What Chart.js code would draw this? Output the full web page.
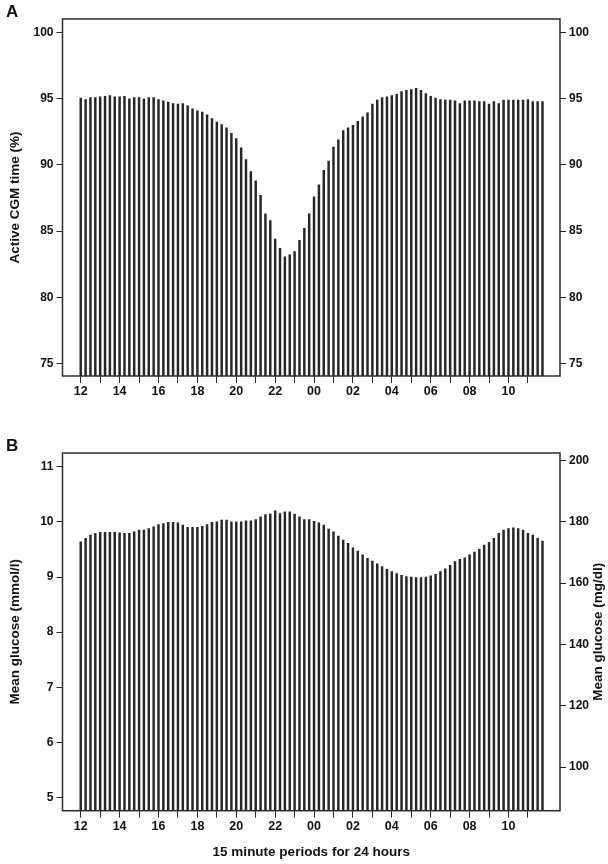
<!DOCTYPE html>
<html><head><meta charset="utf-8">
<script src="https://cdn.jsdelivr.net/npm/chart.js@4/dist/chart.umd.min.js"></script>
<style>
html,body{margin:0;padding:0;background:#fff;width:608px;height:864px;overflow:hidden;}
.wrap{position:absolute;left:0;width:608px;}
#wa{top:0;height:420px;}
#wb{top:420px;height:444px;}
.lbl{position:absolute;font:bold 17px "Liberation Sans",Arial,sans-serif;color:#111;line-height:20px;}
</style></head>
<body>
<div id="wa" class="wrap"><canvas id="ca" width="608" height="420"></canvas></div>
<div id="wb" class="wrap"><canvas id="cb" width="608" height="444"></canvas></div>
<div class="lbl" style="left:6px;top:2px;">A</div>
<div class="lbl" style="left:6px;top:436px;">B</div>
<script>
// x-axis tick labels: one tick per hour (every 4 fifteen-minute periods), label every 2 hours
const hourTickLabels = ['12','','14','','16','','18','','20','','22','','00','','02','','04','','06','','08','','10',''];
const periodsPerHour = 4;

// Panel A: Active CGM time (%) per 15-minute period, starting 12:00
const activeCgmTime = [
  95.05,94.95,95.1,95.1,95.15,95.2,95.25,95.15,95.15,95.2,95.0,95.1,95.1,95.0,95.1,95.1,
  94.95,94.85,94.75,94.65,94.6,94.65,94.5,94.25,94.1,94.0,93.8,93.5,93.25,93.05,92.8,92.4,
  92.0,91.3,90.4,89.5,88.8,87.7,86.3,85.8,84.4,83.7,83.05,83.2,83.45,84.3,85.2,86.3,
  87.6,88.5,89.6,90.3,91.35,91.9,92.6,92.8,93.0,93.3,93.65,93.95,94.6,94.9,95.1,95.15,
  95.25,95.35,95.55,95.65,95.7,95.8,95.65,95.4,95.2,95.05,94.95,94.9,94.9,94.85,94.65,94.85,
  94.85,94.85,94.8,94.8,94.6,94.8,94.65,94.9,94.9,94.9,94.9,94.9,94.95,94.8,94.8,94.8
];
// Panel B: mean glucose (mmol/l) per 15-minute period, starting 12:00
const meanGlucose = [
  9.64,9.70,9.76,9.79,9.81,9.81,9.81,9.81,9.80,9.79,9.79,9.82,9.85,9.85,9.88,9.91,
  9.95,9.97,9.99,9.99,9.98,9.94,9.90,9.90,9.90,9.92,9.95,9.99,10.0,10.03,10.03,10.0,
  10.0,10.0,10.02,10.02,10.04,10.09,10.13,10.14,10.20,10.15,10.18,10.18,10.14,10.09,10.04,10.04,
  10.01,9.98,9.94,9.87,9.82,9.74,9.67,9.61,9.53,9.47,9.40,9.34,9.29,9.24,9.19,9.14,
  9.10,9.06,9.03,9.01,9.00,8.99,8.99,9.00,9.02,9.05,9.10,9.15,9.21,9.28,9.32,9.35,
  9.40,9.45,9.50,9.58,9.63,9.70,9.79,9.85,9.88,9.89,9.88,9.85,9.79,9.76,9.70,9.65
];

const yTicksA = [75,80,85,90,95,100];
const yTicksB = [5,6,7,8,9,10,11];
const yTicksBmgdl = [100,120,140,160,180,200];
const MGDL_PER_MMOL = 18;

const FONT = '"Liberation Sans", Arial, sans-serif';
const INK = '#111';
const LINE = '#2b2b2b';
const TITLE_SIZE = 13.5;

const boxPlugin = {
  id: 'box',
  afterDraw(chart) {
    const a = chart.chartArea, c = chart.ctx;
    c.save();
    c.strokeStyle = LINE; c.lineWidth = 1.5;
    c.strokeRect(a.left, a.top, a.right - a.left, a.bottom - a.top);
    c.restore();
  }
};
const rightTitlePlugin = {
  id: 'rightTitle',
  afterDraw(chart, args, opts) {
    if (!opts || !opts.text) return;
    const a = chart.chartArea, c = chart.ctx;
    c.save();
    c.translate(opts.x, (a.top + a.bottom) / 2);
    c.rotate(-Math.PI / 2);
    c.font = 'bold ' + TITLE_SIZE + 'px ' + FONT;
    c.fillStyle = INK;
    c.textAlign = 'center'; c.textBaseline = 'middle';
    c.fillText(opts.text, 0, 0);
    c.restore();
  }
};

function yScale(pos, min, max, tickVals, width, titleText) {
  return {
    type: 'linear', position: pos, min, max,
    afterBuildTicks: s => { s.ticks = tickVals.map(v => ({ value: v })); },
    afterFit: s => { s.width = width; },
    grid: { drawOnChartArea: false, drawTicks: true, tickLength: 6, color: LINE, lineWidth: 1 },
    border: { display: false },
    ticks: { padding: 3, color: INK, font: { family: FONT, size: 12, weight: 'bold' } },
    title: titleText ? { display: true, text: titleText, color: INK, font: { family: FONT, size: TITLE_SIZE, weight: 'bold' }, padding: { top: 7, bottom: 0 } } : { display: false }
  };
}

function build(canvas, values, cfg) {
  return new Chart(canvas, {
    type: 'bar',
    data: { datasets: [{ data: values.map((v, i) => ({ x: i, y: v })), backgroundColor: '#262626', borderWidth: 0, barThickness: 1.8 }] },
    options: {
      responsive: false, animation: false, devicePixelRatio: 1,
      layout: { padding: { left: 0, right: 0, top: cfg.top, bottom: 0 } },
      plugins: { legend: { display: false }, tooltip: { enabled: false }, rightTitle: cfg.rightTitle || {} },
      scales: {
        x: {
          type: 'linear', min: -3.75, max: 98.6, offset: false,
          afterBuildTicks: s => { s.ticks = hourTickLabels.map((l, i) => ({ value: i * periodsPerHour })); },
          afterFit: s => { s.height = cfg.xh; },
          grid: { drawOnChartArea: false, drawTicks: true, tickLength: 7, color: LINE, offset: false },
          border: { display: false },
          ticks: { autoSkip: false, maxRotation: 0, padding: 1, color: INK, font: { family: FONT, size: 12.5, weight: 'bold' },
                   callback: (v, i) => hourTickLabels[i] },
          title: cfg.xTitle ? { display: true, text: cfg.xTitle, color: INK, font: { family: FONT, size: TITLE_SIZE, weight: 'bold' }, padding: { top: 0, bottom: 4 } } : { display: false }
        },
        y: yScale('left', cfg.ymin, cfg.ymax, cfg.yTicks, 62.5, cfg.yTitle),
        y2: yScale('right', cfg.y2min, cfg.y2max, cfg.y2Ticks, 48, null)
      }
    },
    plugins: [boxPlugin, rightTitlePlugin]
  });
}

build(document.getElementById('ca'), activeCgmTime, {
  top: 19, xh: 44, ymin: 74.04, ymax: 101.04, yTicks: yTicksA,
  y2min: 74.04, y2max: 101.04, y2Ticks: yTicksA, yTitle: 'Active CGM time (%)'
});
const bMin = 4.764, bMax = 11.248;
build(document.getElementById('cb'), meanGlucose, {
  top: 33, xh: 53.3, ymin: bMin, ymax: bMax, yTicks: yTicksB,
  y2min: bMin * MGDL_PER_MMOL, y2max: bMax * MGDL_PER_MMOL, y2Ticks: yTicksBmgdl,
  yTitle: 'Mean glucose (mmol/l)', xTitle: '15 minute periods for 24 hours',
  rightTitle: { text: 'Mean glucose (mg/dl)', x: 598 }
});
</script>
</body></html>
